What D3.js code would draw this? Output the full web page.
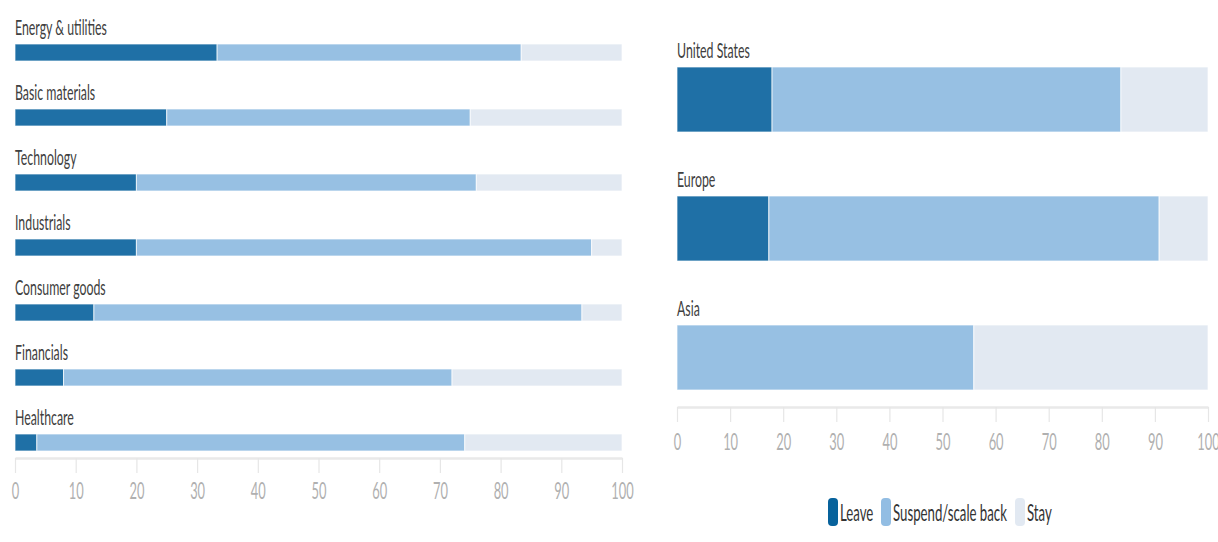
<!DOCTYPE html>
<html><head><meta charset="utf-8">
<script src="https://cdn.jsdelivr.net/npm/d3@7"></script>
<style>
html,body{margin:0;padding:0;background:#fff;}
svg{display:block;}
text{font-family:Lato,"Open Sans",sans-serif;}
</style></head>
<body>
<svg id="chart" width="1218" height="542"></svg>
<script>
// ---- data ----
const sectors = ["Energy & utilities","Basic materials","Technology","Industrials","Consumer goods","Financials","Healthcare"];
const sectorLeave   = [33.3, 25, 20, 20, 13, 8, 3.6];
const sectorSuspend = [50.1, 50, 56, 75, 80.4, 64, 70.5];
const sectorStay    = [16.6, 25, 24, 5, 6.6, 28, 25.9];

const regions = ["United States","Europe","Asia"];
const regionLeave   = [17.9, 17.3, 0];
const regionSuspend = [65.7, 73.5, 55.9];
const regionStay    = [16.4, 9.2, 44.1];

const seriesNames = ["Leave","Suspend/scale back","Stay"];
const seriesKeys = ["leave","suspend","stay"];
const tickValues = [0,10,20,30,40,50,60,70,80,90,100];

const barColors = {leave:"#1f70a6", suspend:"#97c0e3", stay:"#e2e9f2"};
const legendColors = ["#07629c","#92bde3","#e2e9f2"];

const svg = d3.select("#chart");
const FS = 22, TFS = 23, LFS = 24;

function calibrate(pairs, size) {
  let s = 0;
  pairs.forEach(([str, w]) => {
    const p = svg.append("text").attr("font-size", size).text(str);
    s += w / p.node().getComputedTextLength();
    p.remove();
  });
  return s / pairs.length;
}
const SX = calibrate([["Energy & utilities", 98], ["United States", 68]], FS);
const SXL = calibrate([["Suspend/scale back", 114]], LFS);

function ctext(g, x, y, str, opts) {
  opts = opts || {};
  return g.append("text")
    .attr("transform", `translate(${x},${y}) scale(${opts.sx || SX},1)`)
    .attr("font-size", opts.size || FS)
    .attr("fill", opts.fill || "#404040")
    .attr("text-anchor", opts.anchor || "start")
    .text(str);
}

function panel(cats, leave, suspend, stay, xr, yr, axisY, tickY) {
  const rows = cats.map((c, i) => ({cat: c, leave: leave[i], suspend: suspend[i], stay: stay[i]}));
  const stack = d3.stack().keys(seriesKeys)(rows);
  const x = d3.scaleLinear().domain([0, 100]).range(xr);
  const y = d3.scaleBand().domain(cats).range([yr[0], yr[1]]).paddingInner(yr[2]).paddingOuter(0);
  const g = svg.append("g");

  cats.forEach(c => ctext(g, x(0), y(c) - 9, c));

  stack.forEach(layer => {
    g.append("g").selectAll("rect").data(layer).join("rect")
      .attr("x", d => x(d[0]))
      .attr("y", d => y(d.data.cat))
      .attr("width", d => Math.max(0, x(d[1]) - x(d[0])))
      .attr("height", y.bandwidth())
      .attr("fill", barColors[layer.key])
      .attr("stroke", "#ffffff")
      .attr("stroke-opacity", 0.7)
      .attr("stroke-width", 1);
  });

  const ax = g.append("g").attr("transform", `translate(0,${axisY})`);
  const axis = d3.axisBottom(x).tickValues(tickValues).tickSize(15).tickSizeOuter(0).tickFormat(d3.format("d"));
  ax.call(axis);
  ax.select(".domain").attr("stroke", "#e9e9e9").attr("stroke-width", 2.5);
  ax.selectAll(".tick line").attr("stroke", "#e6e6e6").attr("stroke-width", 1.2);
  ax.selectAll(".tick text").remove();
  ax.selectAll(".tick").each(function(d) {
    ctext(d3.select(this), 0, tickY, d, {anchor: "middle", fill: "#b0b0b0", size: TFS});
  });
}

panel(sectors, sectorLeave, sectorSuspend, sectorStay, [15, 622], [44, 451, 48/65], 458, 41);
panel(regions, regionLeave, regionSuspend, regionStay, [677, 1208], [67, 390, 64/129], 407, 43);

// legend
const lg = svg.append("g");
const legendItems = [
  {name: seriesNames[0], x: 828, color: legendColors[0]},
  {name: seriesNames[1], x: 881, color: legendColors[1]},
  {name: seriesNames[2], x: 1015, color: legendColors[2]}
];
legendItems.forEach(it => {
  lg.append("rect").attr("x", it.x).attr("y", 498).attr("width", 10).attr("height", 28)
    .attr("rx", 4).attr("fill", it.color);
  ctext(lg, it.x + 12, 521, it.name, {fill: "#333", size: LFS, sx: SXL});
});
</script>
</body></html>
